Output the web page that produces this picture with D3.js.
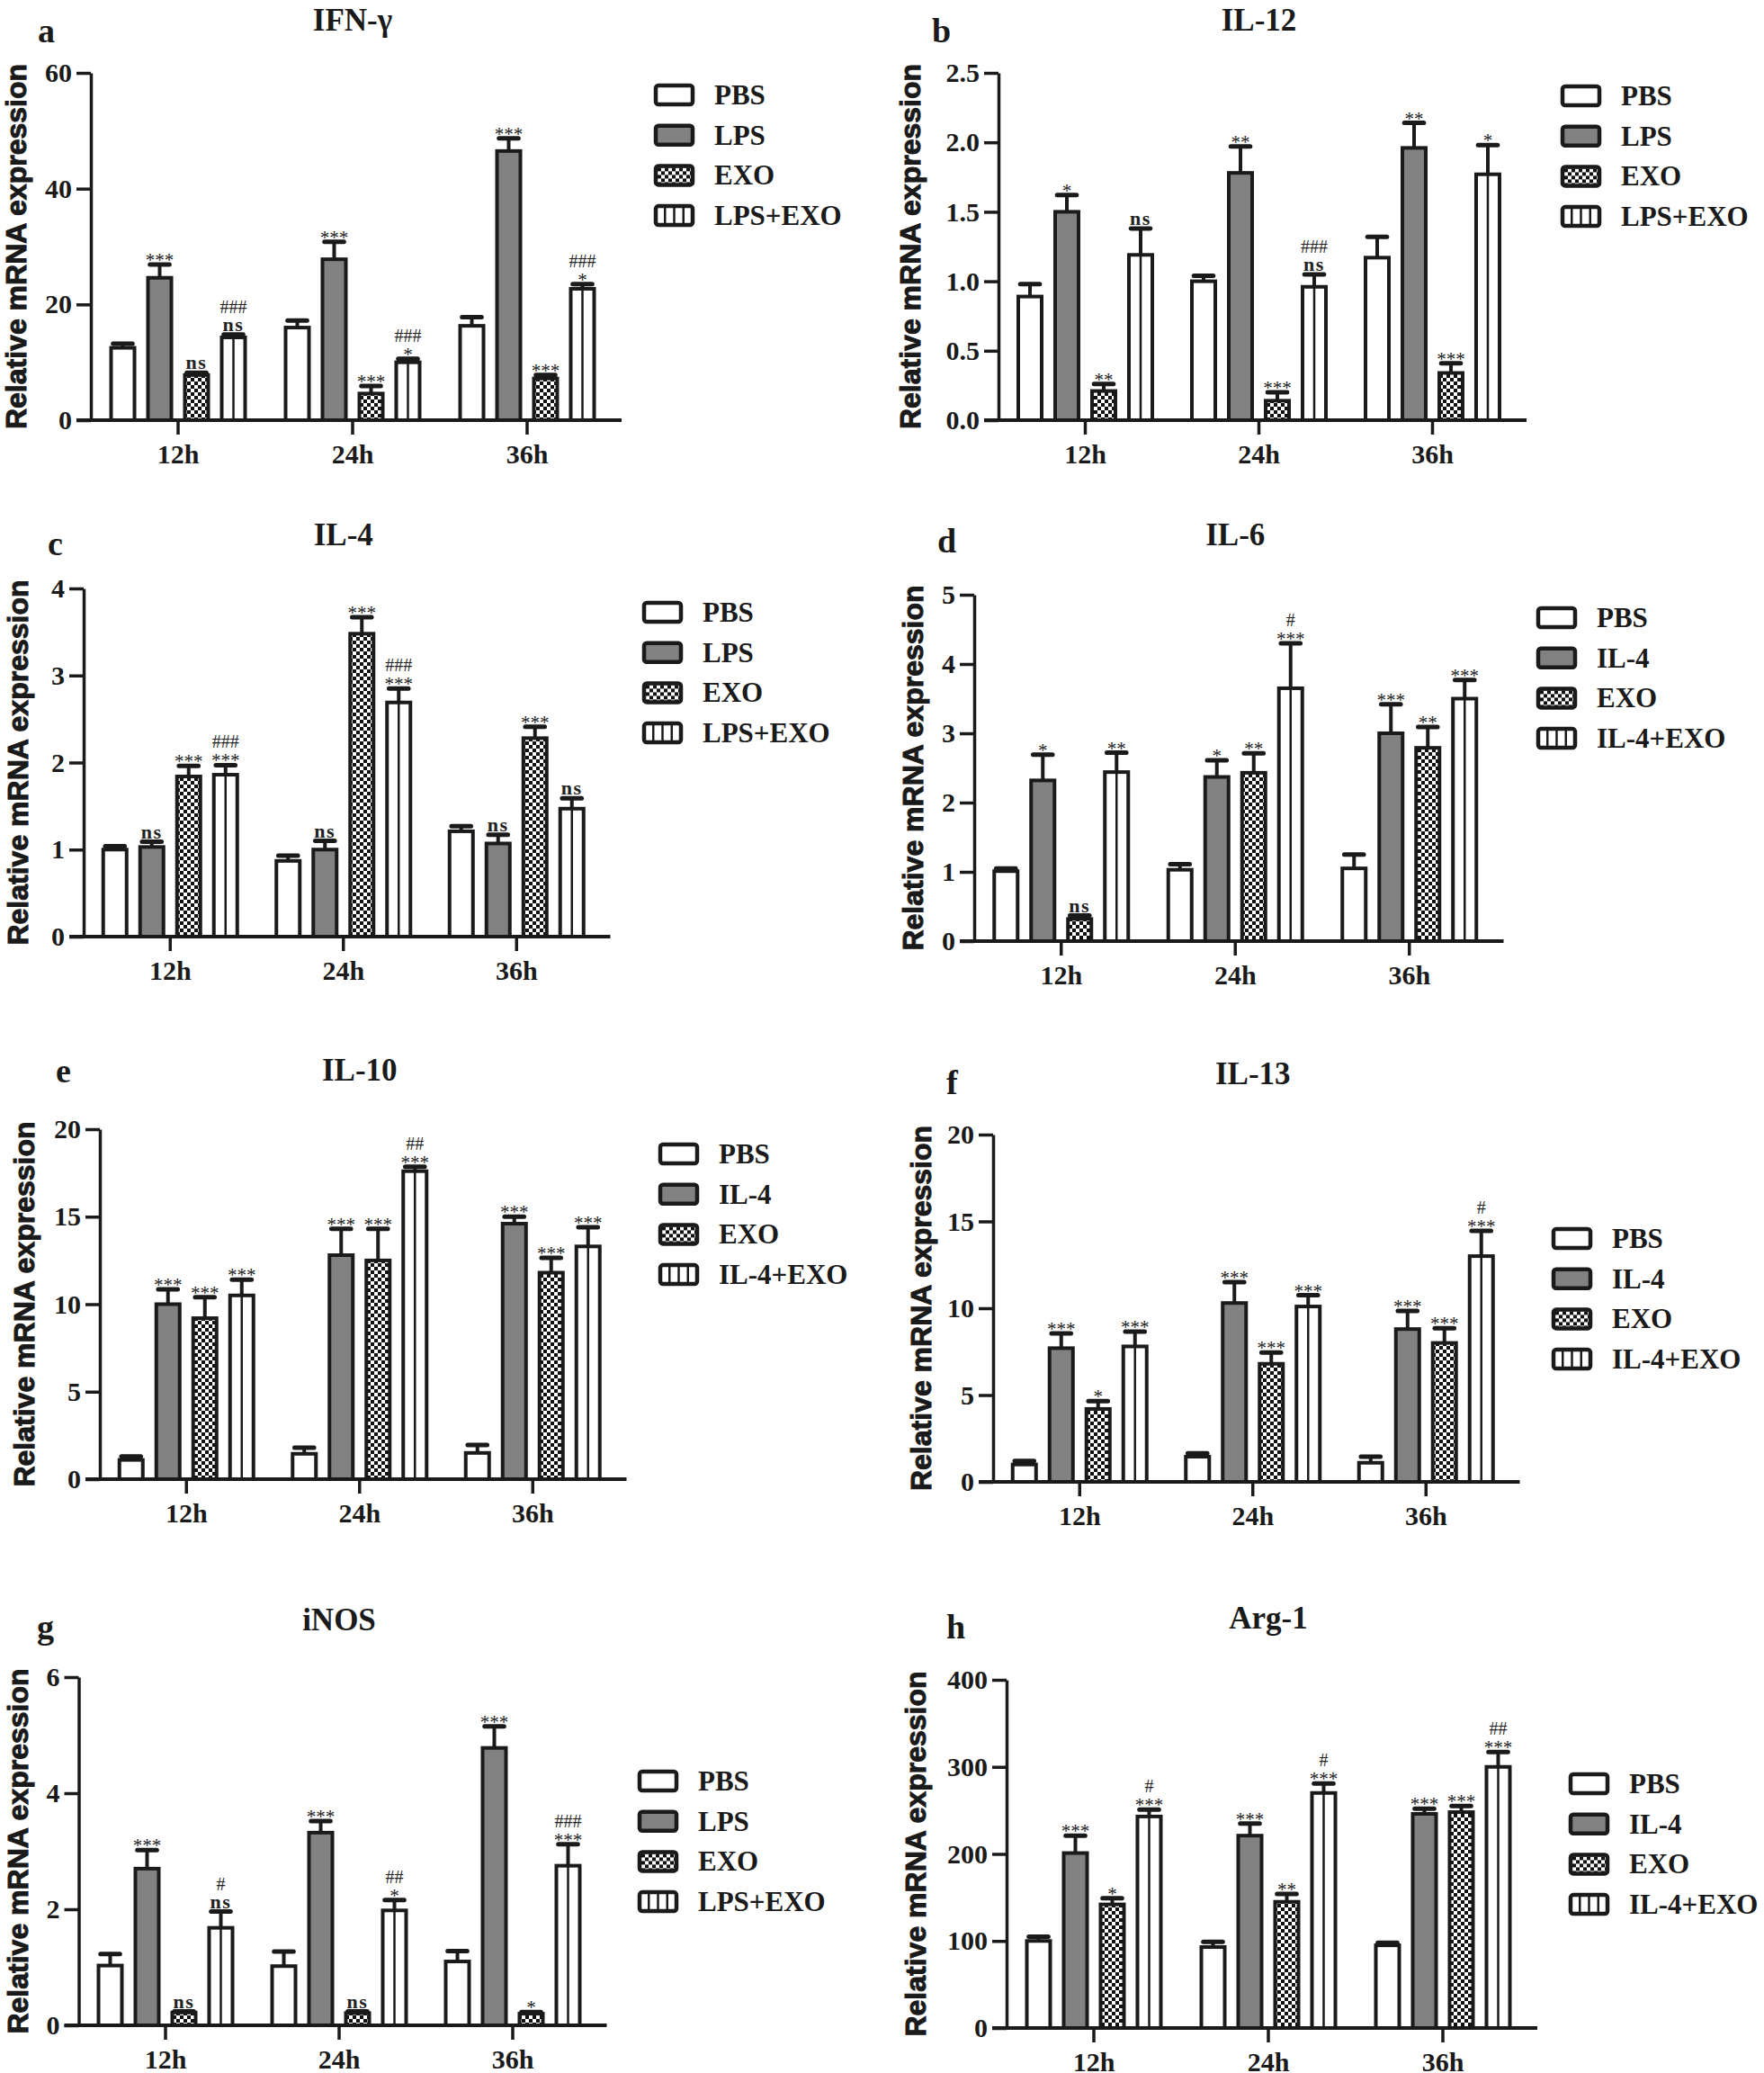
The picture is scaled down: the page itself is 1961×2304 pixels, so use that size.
<!DOCTYPE html>
<html><head><meta charset="utf-8">
<script src="https://cdn.jsdelivr.net/npm/d3@7"></script>
<style>
html,body{margin:0;padding:0;background:#fff;}
svg{display:block;}
</style></head><body>
<svg id="fig" width="1961" height="2304"></svg>
<script>
// ---------------- DATA ----------------
const timepoints = ["12h", "24h", "36h"];
const groupsLPS = ["PBS", "LPS", "EXO", "LPS+EXO"];
const groupsIL4 = ["PBS", "IL-4", "EXO", "IL-4+EXO"];

// a: IFN-γ  (rows: PBS, LPS, EXO, LPS+EXO; columns: 12h, 24h, 36h)
const ifngMean = [[12.5, 16.0, 16.3], [24.6, 27.8, 46.5], [7.8, 4.6, 7.2], [14.3, 10.0, 22.7]];
const ifngErr  = [[0.7, 1.2, 1.5], [2.3, 3.0, 2.2], [0.4, 1.3, 0.6], [0.5, 0.6, 0.8]];
const ifngSig  = [["", "", ""], ["***", "***", "***"], ["ns", "***", "***"], ["ns", "*", "*"]];
const ifngHash = [["", "", ""], ["", "", ""], ["", "", ""], ["###", "###", "###"]];

// b: IL-12
const il12Mean = [[0.89, 1.0, 1.17], [1.5, 1.78, 1.96], [0.21, 0.14, 0.34], [1.19, 0.96, 1.77]];
const il12Err  = [[0.09, 0.04, 0.15], [0.12, 0.19, 0.18], [0.05, 0.06, 0.07], [0.19, 0.09, 0.21]];
const il12Sig  = [["", "", ""], ["*", "**", "**"], ["**", "***", "***"], ["ns", "ns", "*"]];
const il12Hash = [["", "", ""], ["", "", ""], ["", "", ""], ["", "###", ""]];

// c: IL-4
const il4Mean = [[1.0, 0.87, 1.21], [1.03, 1.0, 1.07], [1.84, 3.48, 2.28], [1.86, 2.69, 1.47]];
const il4Err  = [[0.04, 0.06, 0.06], [0.06, 0.1, 0.1], [0.12, 0.19, 0.13], [0.11, 0.16, 0.12]];
const il4Sig  = [["", "", ""], ["ns", "ns", "ns"], ["***", "***", "***"], ["***", "***", "ns"]];
const il4Hash = [["", "", ""], ["", "", ""], ["", "", ""], ["###", "###", ""]];

// d: IL-6
const il6Mean = [[1.01, 1.03, 1.05], [2.32, 2.37, 3.0], [0.32, 2.43, 2.79], [2.44, 3.65, 3.5]];
const il6Err  = [[0.04, 0.08, 0.2], [0.37, 0.24, 0.42], [0.05, 0.28, 0.3], [0.28, 0.65, 0.27]];
const il6Sig  = [["", "", ""], ["*", "*", "***"], ["ns", "**", "**"], ["**", "***", "***"]];
const il6Hash = [["", "", ""], ["", "", ""], ["", "", ""], ["", "#", ""]];

// e: IL-10
const il10Mean = [[1.1, 1.45, 1.5], [10.0, 12.8, 14.6], [9.2, 12.5, 11.8], [10.5, 17.6, 13.3]];
const il10Err  = [[0.2, 0.35, 0.45], [0.85, 1.5, 0.4], [1.2, 1.8, 0.85], [0.9, 0.25, 1.1]];
const il10Sig  = [["", "", ""], ["***", "***", "***"], ["***", "***", "***"], ["***", "***", "***"]];
const il10Hash = [["", "", ""], ["", "", ""], ["", "", ""], ["", "##", ""]];

// f: IL-13
const il13Mean = [[1.0, 1.45, 1.1], [7.7, 10.3, 8.8], [4.2, 6.8, 8.0], [7.8, 10.1, 13.0]];
const il13Err  = [[0.2, 0.2, 0.35], [0.85, 1.2, 1.05], [0.45, 0.65, 0.85], [0.85, 0.65, 1.45]];
const il13Sig  = [["", "", ""], ["***", "***", "***"], ["*", "***", "***"], ["***", "***", "***"]];
const il13Hash = [["", "", ""], ["", "", ""], ["", "", ""], ["", "", "#"]];

// g: iNOS
const inosMean = [[1.03, 1.02, 1.1], [2.7, 3.32, 4.78], [0.22, 0.21, 0.2], [1.68, 1.98, 2.75]];
const inosErr  = [[0.2, 0.25, 0.18], [0.32, 0.2, 0.37], [0.02, 0.03, 0.03], [0.28, 0.18, 0.37]];
const inosSig  = [["", "", ""], ["***", "***", "***"], ["ns", "ns", "*"], ["ns", "*", "***"]];
const inosHash = [["", "", ""], ["", "", ""], ["", "", ""], ["#", "##", "###"]];

// h: Arg-1
const arg1Mean = [[100, 93, 95], [201, 221, 246], [142, 145, 248], [243, 270, 300]];
const arg1Err  = [[5, 6, 3], [20, 14, 6], [7, 9, 7], [8, 11, 17]];
const arg1Sig  = [["", "", ""], ["***", "***", "***"], ["*", "**", "***"], ["***", "***", "***"]];
const arg1Hash = [["", "", ""], ["", "", ""], ["", "", ""], ["#", "#", "##"]];

// tick values
const ticksIFNG = [0, 20, 40, 60];
const ticksIL12 = [0, 0.5, 1.0, 1.5, 2.0, 2.5];
const ticksIL4  = [0, 1, 2, 3, 4];
const ticksIL6  = [0, 1, 2, 3, 4, 5];
const ticksIL10 = [0, 5, 10, 15, 20];
const ticksIL13 = [0, 5, 10, 15, 20];
const ticksINOS = [0, 2, 4, 6];
const ticksARG1 = [0, 100, 200, 300, 400];

// ---------------- STYLE ----------------
const SERIF = "'Liberation Serif','Times New Roman',serif";
const SANS = "'Liberation Sans',Arial,sans-serif";
const INK = "#1a1a1a";
const GRAY = "#818181";
const YTITLE = "Relative mRNA expression";

const svg = d3.select("#fig");
svg.append("rect").attr("width", 1961).attr("height", 2304).attr("fill", "#fff");

const defs = svg.append("defs");
const pat = defs.append("pattern").attr("id", "checker").attr("patternUnits", "userSpaceOnUse")
  .attr("width", 8).attr("height", 8);
pat.append("rect").attr("width", 8).attr("height", 8).attr("fill", "#fff");
pat.append("rect").attr("width", 4).attr("height", 4).attr("fill", "#111");
pat.append("rect").attr("x", 4).attr("y", 4).attr("width", 4).attr("height", 4).attr("fill", "#111");

function fillFor(i) { return i === 0 ? "#fff" : i === 1 ? GRAY : i === 2 ? "url(#checker)" : "#fff"; }

const panels = [
  { letter: "a", title: "IFN-γ", groups: groupsLPS, mean: ifngMean, err: ifngErr, sig: ifngSig, hash: ifngHash,
    ticks: ticksIFNG, fmt: d3.format("d"),
    ax: 101, top: 81, zero: 467, step: 194, titleY: 34, lx: 42, ly: 47, ytx: 18, legX: 727, legY: 93 },
  { letter: "b", title: "IL-12", groups: groupsLPS, mean: il12Mean, err: il12Err, sig: il12Sig, hash: il12Hash,
    ticks: ticksIL12, fmt: d3.format(".1f"),
    ax: 1110, top: 81, zero: 467, step: 193, titleY: 34, lx: 1036, ly: 47, ytx: 1012, legX: 1735, legY: 94 },
  { letter: "c", title: "IL-4", groups: groupsLPS, mean: il4Mean, err: il4Err, sig: il4Sig, hash: il4Hash,
    ticks: ticksIL4, fmt: d3.format("d"),
    ax: 93, top: 654, zero: 1041, step: 192.5, titleY: 606, lx: 53, ly: 617, ytx: 20, legX: 714, legY: 668 },
  { letter: "d", title: "IL-6", groups: groupsIL4, mean: il6Mean, err: il6Err, sig: il6Sig, hash: il6Hash,
    ticks: ticksIL6, fmt: d3.format("d"),
    ax: 1083, top: 661, zero: 1046, step: 193.5, titleY: 606, lx: 1042, ly: 614, ytx: 1015, legX: 1708, legY: 674 },
  { letter: "e", title: "IL-10", groups: groupsIL4, mean: il10Mean, err: il10Err, sig: il10Sig, hash: il10Hash,
    ticks: ticksIL10, fmt: d3.format("d"),
    ax: 111, top: 1255, zero: 1644, step: 192.5, titleY: 1201, lx: 62, ly: 1203, ytx: 27, legX: 732, legY: 1270 },
  { letter: "f", title: "IL-13", groups: groupsIL4, mean: il13Mean, err: il13Err, sig: il13Sig, hash: il13Hash,
    ticks: ticksIL13, fmt: d3.format("d"),
    ax: 1104, top: 1261, zero: 1647, step: 192.5, titleY: 1205, lx: 1052, ly: 1216, ytx: 1024, legX: 1725, legY: 1364 },
  { letter: "g", title: "iNOS", groups: groupsLPS, mean: inosMean, err: inosErr, sig: inosSig, hash: inosHash,
    ticks: ticksINOS, fmt: d3.format("d"),
    ax: 87.5, top: 1864, zero: 2251, step: 193, titleY: 1812, lx: 41, ly: 1821, ytx: 20, legX: 709, legY: 1967 },
  { letter: "h", title: "Arg-1", groups: groupsIL4, mean: arg1Mean, err: arg1Err, sig: arg1Sig, hash: arg1Hash,
    ticks: ticksARG1, fmt: d3.format("d"),
    ax: 1119, top: 1867, zero: 2254, step: 194, titleY: 1810, lx: 1052, ly: 1821, ytx: 1018, legX: 1744, legY: 1970 }
];

function drawPanel(p) {
  const g = svg.append("g").attr("class", "panel-" + p.letter);
  const maxT = p.ticks[p.ticks.length - 1];
  const y = d3.scaleLinear().domain([0, maxT]).range([p.zero, p.top]);
  const x0 = d3.scaleBand().domain(timepoints).range([p.ax, p.ax + 3 * p.step]);
  const x1 = d3.scaleBand().domain(p.groups).range([-76.5, 76.5]).paddingInner(0.268);
  const bw = x1.bandwidth();

  const recs = [];
  p.groups.forEach((grp, gi) => timepoints.forEach((t, ti) => {
    recs.push({ grp, gi, t, v: p.mean[gi][ti], e: p.err[gi][ti], sig: p.sig[gi][ti], hash: p.hash[gi][ti],
      cx: x0(t) + x0.bandwidth() / 2 + x1(grp) + bw / 2 });
  }));

  // error bars (upper only)
  g.selectAll("line.err").data(recs).join("line").attr("class", "err")
    .attr("x1", d => d.cx).attr("x2", d => d.cx)
    .attr("y1", d => y(d.v)).attr("y2", d => y(d.v + d.e))
    .attr("stroke", INK).attr("stroke-width", 4);
  g.selectAll("line.cap").data(recs).join("line").attr("class", "cap")
    .attr("x1", d => d.cx - bw * 0.36).attr("x2", d => d.cx + bw * 0.36)
    .attr("y1", d => y(d.v + d.e)).attr("y2", d => y(d.v + d.e))
    .attr("stroke", INK).attr("stroke-width", 5).attr("stroke-linecap", "round");

  // bars
  const inner = bw - 4;
  g.selectAll("rect.bar").data(recs).join("rect").attr("class", "bar")
    .attr("x", d => d.cx - inner / 2).attr("width", inner)
    .attr("y", d => y(d.v)).attr("height", d => p.zero - y(d.v))
    .attr("fill", d => fillFor(d.gi)).attr("stroke", INK).attr("stroke-width", 4);
  // stripes for combination group
  g.selectAll("line.stripe").data(recs.filter(d => d.gi === 3)).join("line").attr("class", "stripe")
    .attr("x1", d => d.cx).attr("x2", d => d.cx)
    .attr("y1", d => y(d.v)).attr("y2", p.zero)
    .attr("stroke", INK).attr("stroke-width", 2.5);

  // significance labels
  const ann = recs.filter(d => d.sig);
  g.selectAll("text.sig").data(ann).join("text").attr("class", "sig")
    .attr("x", d => d.cx).attr("text-anchor", "middle")
    .attr("y", d => d.sig === "ns" ? y(d.v + d.e) - 4 : y(d.v + d.e) + 2)
    .attr("font-family", SERIF)
    .attr("font-weight", d => d.sig === "ns" ? "bold" : "normal")
    .attr("font-size", d => d.sig === "ns" ? 22 : 21)
    .attr("letter-spacing", d => d.sig === "ns" ? 1.5 : 0)
    .attr("fill", "#222")
    .text(d => d.sig);
  g.selectAll("text.hash").data(recs.filter(d => d.hash)).join("text").attr("class", "hash")
    .attr("x", d => d.cx).attr("text-anchor", "middle")
    .attr("y", d => y(d.v + d.e) - (d.sig === "ns" ? 24 : 19))
    .attr("font-family", SERIF).attr("font-size", 20).attr("fill", "#222")
    .text(d => d.hash);

  // y axis
  const yAxis = d3.axisLeft(y).tickValues(p.ticks).tickFormat(p.fmt).tickSize(16).tickSizeOuter(0).tickPadding(5);
  const ya = g.append("g").attr("transform", `translate(${p.ax},0)`).call(yAxis);
  ya.attr("font-family", SERIF).attr("font-size", 30).attr("font-weight", "bold");
  ya.selectAll("path,line").attr("stroke", INK).attr("stroke-width", 3.5);
  ya.selectAll("text").attr("fill", INK);

  // x axis
  const xAxis = d3.axisBottom(x0).tickSize(16).tickSizeOuter(0).tickPadding(11);
  const xa = g.append("g").attr("transform", `translate(0,${p.zero})`).call(xAxis);
  xa.attr("font-family", SERIF).attr("font-size", 30).attr("font-weight", "bold");
  xa.select("path.domain").remove();
  xa.selectAll("line").attr("stroke", INK).attr("stroke-width", 3.5);
  xa.selectAll("text").attr("fill", INK);
  g.append("line").attr("x1", p.ax - 16).attr("x2", p.ax + 3 * p.step + 8)
    .attr("y1", p.zero).attr("y2", p.zero).attr("stroke", INK).attr("stroke-width", 4);

  // y title
  g.append("text").attr("transform", `translate(${p.ytx},${(p.top + p.zero) / 2}) rotate(-90)`)
    .attr("text-anchor", "middle").attr("dominant-baseline", "central")
    .attr("font-family", SANS).attr("font-weight", "bold").attr("font-size", 32).attr("fill", INK)
    .attr("stroke", INK).attr("stroke-width", 1)
    .text(YTITLE);

  // title & letter
  g.append("text").attr("x", p.ax + 1.5 * p.step).attr("y", p.titleY).attr("text-anchor", "middle")
    .attr("font-family", SERIF).attr("font-weight", "bold").attr("font-size", 35).attr("fill", INK)
    .text(p.title);
  g.append("text").attr("x", p.lx).attr("y", p.ly)
    .attr("font-family", SERIF).attr("font-weight", "bold").attr("font-size", 38).attr("fill", INK)
    .text(p.letter);

  // legend
  const pitch = 44.7;
  const lg = g.append("g").selectAll("g").data(p.groups).join("g")
    .attr("transform", (d, i) => `translate(${p.legX},${p.legY + i * pitch})`);
  lg.append("rect").attr("x", 2).attr("y", 2).attr("width", 41).attr("height", 21).attr("rx", 3)
    .attr("fill", (d, i) => fillFor(i)).attr("stroke", INK).attr("stroke-width", 4.5);
  lg.filter((d, i) => i === 3).selectAll("line").data([0.25, 0.5, 0.75]).join("line")
    .attr("x1", f => 2 + 41 * f).attr("x2", f => 2 + 41 * f).attr("y1", 2).attr("y2", 23)
    .attr("stroke", INK).attr("stroke-width", 2.5);
  lg.append("text").attr("x", 67).attr("y", 12.5 + 10.5)
    .attr("font-family", SERIF).attr("font-weight", "bold").attr("font-size", 31).attr("fill", INK)
    .text(d => d);
}

panels.forEach(drawPanel);
</script>
</body></html>
